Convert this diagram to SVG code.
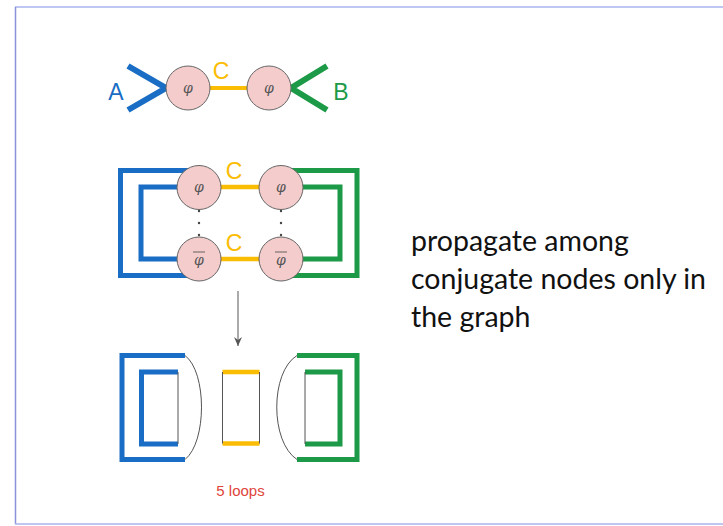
<svg xmlns="http://www.w3.org/2000/svg" width="723" height="526" viewBox="0 0 723 526">
<style>
.node{fill:#f4cccc;stroke:#666;stroke-width:1}
.phi{font-family:"DejaVu Serif",serif;font-style:italic;font-size:14px;fill:#555;text-anchor:middle}
.blue{fill:none;stroke:#1a6dc4;stroke-linejoin:miter}
.green{fill:none;stroke:#1d9a48;stroke-linejoin:miter}
.yel{fill:none;stroke:#fbbc04}
.thin{fill:none;stroke:#555;stroke-width:1}
.lbl{font-family:"Liberation Sans",Arial,sans-serif;font-size:23px;text-anchor:middle}
.dot{fill:#444}
</style>
<defs>
<marker id="ah" markerWidth="9" markerHeight="8" refX="9" refY="4" orient="auto" markerUnits="userSpaceOnUse" viewBox="0 0 9 8">
<path d="M0,0 L9,4 L0,8 L3,4 Z" fill="#555"/>
</marker>
</defs>
<rect x="0" y="0" width="723" height="526" fill="#fff"/>
<g id="frame">
<line x1="15" y1="7" x2="723" y2="7" stroke="#aab3ee" stroke-width="1.5"/>
<line x1="15.5" y1="7" x2="15.5" y2="524" stroke="#8a92dc" stroke-width="1.5"/>
<line x1="15" y1="524" x2="723" y2="524" stroke="#aab3ee" stroke-width="1.5"/>
</g>
<g id="connectors">
<polyline class="blue" stroke-width="6" points="128,66 166,88 128,110"/>
<polyline class="green" stroke-width="6" points="327,66 291,88 327,110"/>
<line class="yel" stroke-width="4" x1="188" y1="88" x2="269" y2="88"/>
<path class="blue" stroke-width="5" d="M199,170.5 H120.5 V275.5 H199"/>
<path class="blue" stroke-width="5" d="M199,187 H141 V259 H199"/>
<path class="green" stroke-width="5" d="M281,170.5 H357 V275.5 H281"/>
<path class="green" stroke-width="5" d="M281,187 H340 V259 H281"/>
<line class="yel" stroke-width="4.5" x1="199" y1="187" x2="281" y2="187"/>
<line class="yel" stroke-width="4.5" x1="199" y1="259" x2="281" y2="259"/>
<line x1="238" y1="291" x2="238" y2="346" stroke="#555" stroke-width="1" marker-end="url(#ah)"/>
</g>
<g id="labels-top">
<text class="lbl" x="116" y="100" fill="#1a6dc4">A</text>
<text class="lbl" x="341" y="100" fill="#1d9a48">B</text>
<text class="lbl" x="221" y="79" fill="#fbbc04">C</text>
<text class="lbl" x="234" y="179" fill="#fbbc04">C</text>
<text class="lbl" x="234" y="251" fill="#fbbc04">C</text>
</g>
<g id="node-top-left"><circle class="node" cx="188" cy="88" r="22"/><text class="phi" x="188" y="93">φ</text></g>
<g id="node-top-right"><circle class="node" cx="269" cy="88" r="22"/><text class="phi" x="269" y="93">φ</text></g>
<g id="node-mid-tl"><circle class="node" cx="199" cy="187.5" r="22"/><text class="phi" x="199" y="192">φ</text></g>
<g id="node-mid-tr"><circle class="node" cx="281" cy="187.5" r="22"/><text class="phi" x="281" y="192">φ</text></g>
<g id="node-mid-bl"><circle class="node" cx="199" cy="259" r="22"/><text class="phi" x="199" y="265">φ</text><line x1="193" y1="252" x2="205" y2="252" stroke="#555" stroke-width="0.9"/></g>
<g id="node-mid-br"><circle class="node" cx="281" cy="259" r="22"/><text class="phi" x="281" y="265">φ</text><line x1="275" y1="252" x2="287" y2="252" stroke="#555" stroke-width="0.9"/></g>
<g id="dots">
<circle class="dot" cx="199" cy="211" r="1.2"/><circle class="dot" cx="199" cy="223" r="1.2"/><circle class="dot" cx="199" cy="235" r="1.2"/>
<circle class="dot" cx="281" cy="211" r="1.2"/><circle class="dot" cx="281" cy="223" r="1.2"/><circle class="dot" cx="281" cy="235" r="1.2"/>
</g>
<g id="loops">
<path class="blue" stroke-width="5" d="M185,355.5 H122 V459.5 H185"/>
<path class="thin" d="M185,355.5 C207,372 207,442 185,459.5"/>
<path class="blue" stroke-width="5" d="M178,372 H141.5 V444 H178"/>
<line class="thin" x1="178" y1="372" x2="178" y2="444"/>
<line class="yel" stroke-width="4.5" x1="222.5" y1="372" x2="259.5" y2="372"/>
<line class="yel" stroke-width="4.5" x1="222.5" y1="443.5" x2="259.5" y2="443.5"/>
<line class="thin" x1="222.5" y1="372" x2="222.5" y2="443.5"/>
<line class="thin" x1="259.5" y1="372" x2="259.5" y2="443.5"/>
<path class="green" stroke-width="5" d="M297,355.5 H357 V459.5 H297"/>
<path class="thin" d="M297,355.5 C270,372 270,442 297,459.5"/>
<path class="green" stroke-width="5" d="M305,372 H340 V444 H305"/>
<line class="thin" x1="305" y1="372" x2="305" y2="444"/>
</g>
<text x="240.5" y="496" font-family="Liberation Sans,Arial,sans-serif" font-size="15" fill="#e0443a" text-anchor="middle">5 loops</text>
<text font-family="Lato,sans-serif" font-size="28.5" fill="#111">
<tspan x="411" y="251">propagate among</tspan>
<tspan x="411" y="289">conjugate nodes only in</tspan>
<tspan x="411" y="327">the graph</tspan>
</text>
</svg>
